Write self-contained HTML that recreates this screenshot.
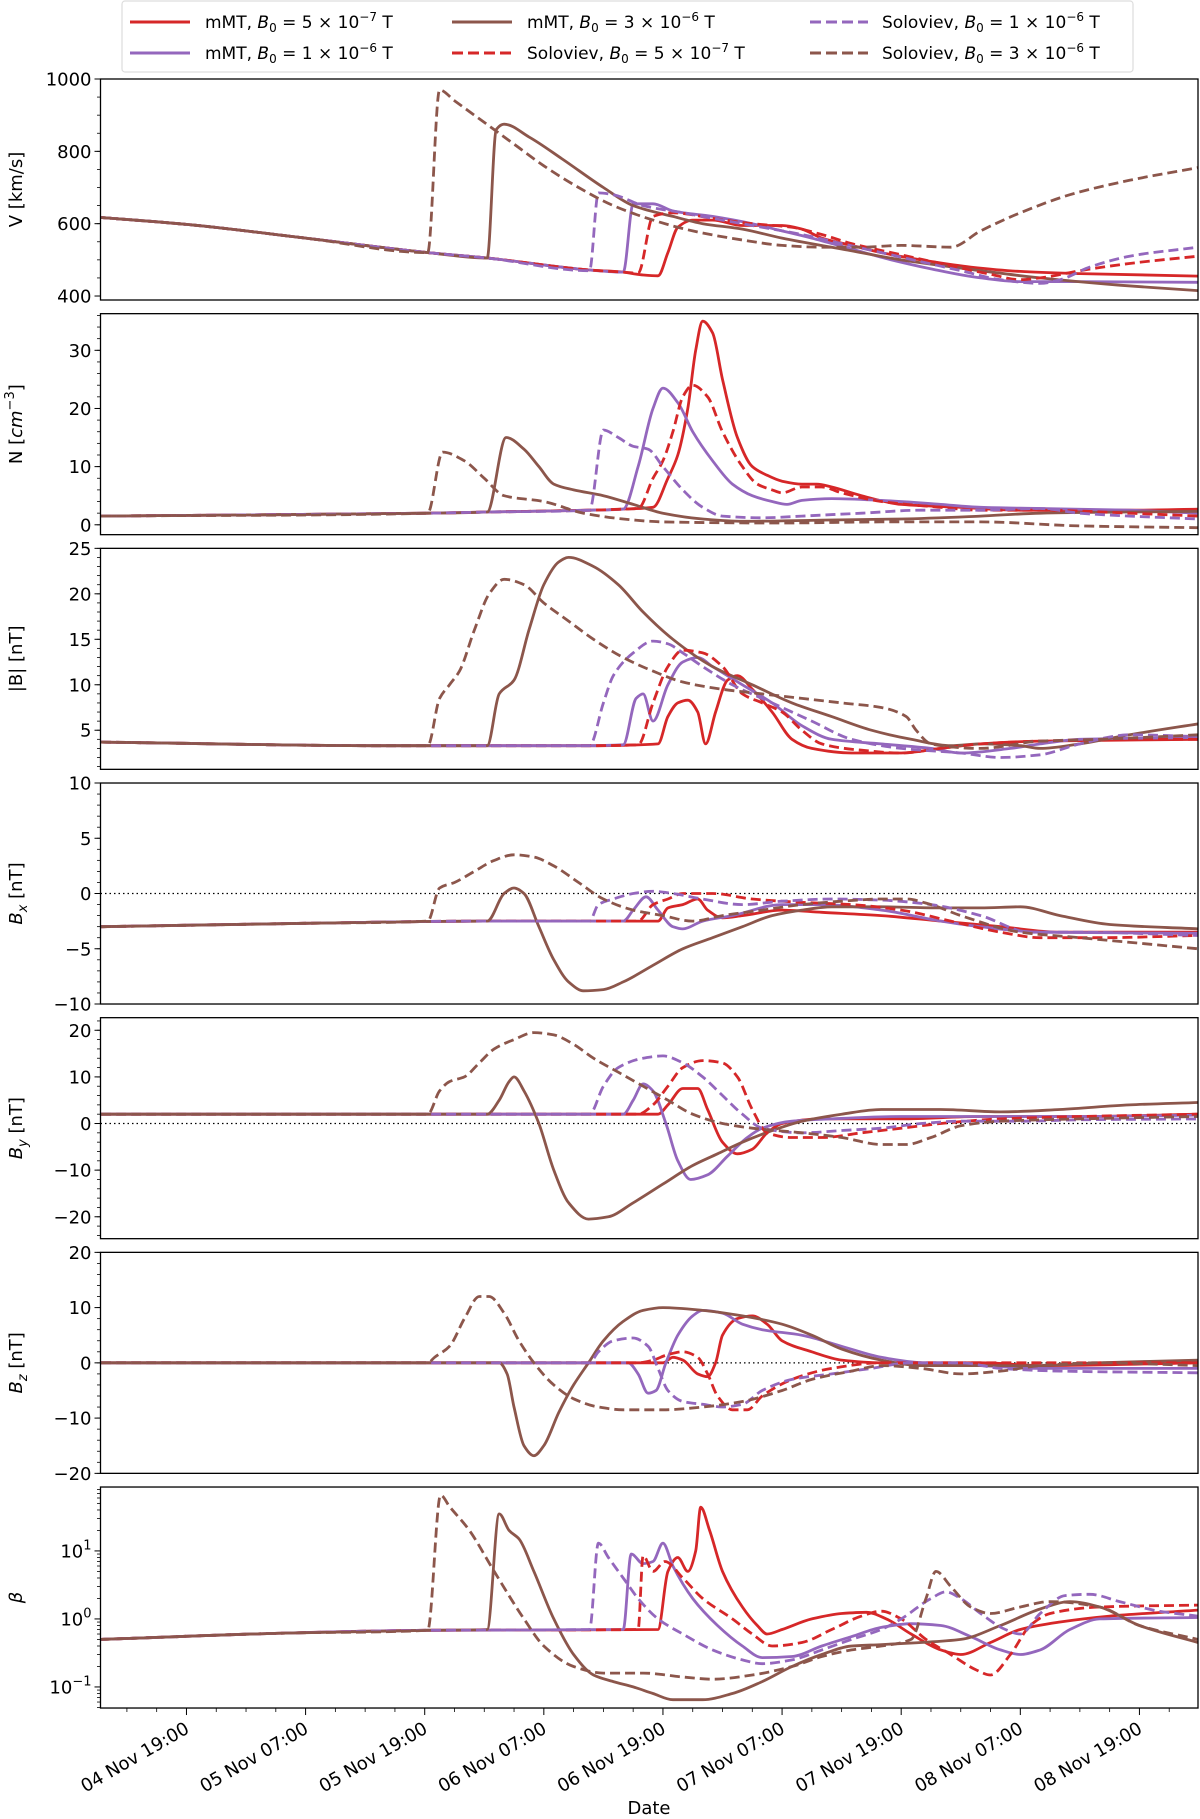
<!DOCTYPE html>
<html><head><meta charset="utf-8"><style>
body{margin:0;background:#fff;}
svg{display:block;font-family:"DejaVu Sans","Liberation Sans",sans-serif;}
</style></head><body>
<svg id="fig" width="1200" height="1819" viewBox="0 0 1200 1819" xmlns="http://www.w3.org/2000/svg">
<g id="legend">
<rect x="122" y="1" width="1011" height="71" fill="#fff" stroke="#ddd" stroke-width="1.2" rx="3"/>
<g><line x1="130" y1="22" x2="190" y2="22" stroke="#d62728" stroke-width="3"/><text x="205" y="28" font-size="17">mMT, <tspan font-style="italic">B</tspan><tspan font-size="12" dy="4">0</tspan><tspan dy="-4"> = 5 × 10</tspan><tspan font-size="12" dy="-7">−7</tspan><tspan dy="7"> T</tspan></text></g>
<g><line x1="130" y1="53" x2="190" y2="53" stroke="#9467bd" stroke-width="3"/><text x="205" y="59" font-size="17">mMT, <tspan font-style="italic">B</tspan><tspan font-size="12" dy="4">0</tspan><tspan dy="-4"> = 1 × 10</tspan><tspan font-size="12" dy="-7">−6</tspan><tspan dy="7"> T</tspan></text></g>
<g><line x1="452" y1="22" x2="512" y2="22" stroke="#8c564b" stroke-width="3"/><text x="527" y="28" font-size="17">mMT, <tspan font-style="italic">B</tspan><tspan font-size="12" dy="4">0</tspan><tspan dy="-4"> = 3 × 10</tspan><tspan font-size="12" dy="-7">−6</tspan><tspan dy="7"> T</tspan></text></g>
<g><line x1="452" y1="53" x2="512" y2="53" stroke="#d62728" stroke-width="3" stroke-dasharray="11,5"/><text x="527" y="59" font-size="17">Soloviev, <tspan font-style="italic">B</tspan><tspan font-size="12" dy="4">0</tspan><tspan dy="-4"> = 5 × 10</tspan><tspan font-size="12" dy="-7">−7</tspan><tspan dy="7"> T</tspan></text></g>
<g><line x1="810" y1="22" x2="868" y2="22" stroke="#9467bd" stroke-width="3" stroke-dasharray="11,5"/><text x="882" y="28" font-size="17">Soloviev, <tspan font-style="italic">B</tspan><tspan font-size="12" dy="4">0</tspan><tspan dy="-4"> = 1 × 10</tspan><tspan font-size="12" dy="-7">−6</tspan><tspan dy="7"> T</tspan></text></g>
<g><line x1="810" y1="53" x2="868" y2="53" stroke="#8c564b" stroke-width="3" stroke-dasharray="11,5"/><text x="882" y="59" font-size="17">Soloviev, <tspan font-style="italic">B</tspan><tspan font-size="12" dy="4">0</tspan><tspan dy="-4"> = 3 × 10</tspan><tspan font-size="12" dy="-7">−6</tspan><tspan dy="7"> T</tspan></text></g>
</g>
<text x="649" y="1814" font-size="18" text-anchor="middle">Date</text>
</svg>
<script>
// time in hours since 04 Nov 19:00
const xTickLabels = ["04 Nov 19:00","05 Nov 07:00","05 Nov 19:00","06 Nov 07:00","06 Nov 19:00","07 Nov 07:00","07 Nov 19:00","08 Nov 07:00","08 Nov 19:00"];
const xTickHours = [0,12,24,36,48,60,72,84,96];

const vBase = [[-8.6,617],[0,598],[12,560],[24.3,520],[30.3,505],[40.6,472],[44,466],[47.5,462]];
const vMR5 = [[46,458],[47.5,456],[48.5,520],[49.5,590],[51,610],[53,610],[56,595],[60,595],[62,585],[64,560],[67,540],[70,520],[74,500],[79,480],[84,468],[90,462],[101.9,455]];
const vMP1 = [[44,466],[45,655],[47,655],[49,635],[53,620],[57,600],[60,580],[63,560],[67,530],[71,500],[75,475],[80,450],[84,440],[90,440],[101.9,438]];
const vMB3 = [[30.3,505],[31.2,860],[32,875],[34.5,840],[37.8,780],[42,700],[45,650],[49,620],[52,600],[56,585],[60,560],[66,530],[72,500],[80,470],[86,450],[94,430],[101.9,415]];
const vSR5 = [[45.5,463],[47,620],[49,630],[53,615],[57,600],[61,590],[64,570],[67,545],[71,520],[76,490],[81,460],[84,445],[86,450],[90,470],[95,490],[101.9,510]];
const vSP1 = [[40.6,470],[41.5,685],[43,680],[46,650],[50,630],[54,610],[58,590],[62,570],[66,545],[70,520],[74,495],[78,470],[82,445],[86,435],[88,445],[91,480],[95,510],[101.9,535]];
const vSB3 = [[24.3,520],[25.5,970],[27,940],[30,880],[33,820],[36,760],[39.5,700],[43,650],[47,610],[51,580],[56,555],[60,540],[64,535],[68,535],[72,540],[77,535],[80,580],[84,630],[89,680],[95,720],[101.9,755]];

const nBase = [[-8.6,1.5],[24.3,2.0],[30.3,2.2],[40.6,2.5],[44,2.7],[47,3]];
const nMR5 = [[47,3],[48.5,8],[49.5,12],[50.5,20],[51.3,30],[52,35],[53,33],[54,25],[55.5,15],[57,10],[58.5,8.5],[60,7.5],[62,7],[63.5,7],[65,6.5],[68,5],[72,3.5],[78,3],[84,2.5],[90,2.5],[95,2.5],[101.9,2.7]];
const nMP1 = [[44,2.7],[45.5,10],[47,20],[48,23.5],[49.5,21],[51,16],[53,11],[55,7],[57,5],[59,4],[60.5,3.5],[62,4.2],[65,4.5],[70,4.2],[76,3.5],[80,3],[86,2.8],[95,2.5],[101.9,2.0]];
const nMB3 = [[30.3,2.2],[32.2,15],[34,13],[35.5,10],[37,7],[39,6],[42,5],[45,3.5],[48,2],[52,1.0],[56,0.6],[64,0.8],[72,1],[80,1.5],[86,2.0],[95,2.2],[101.9,2.3]];
const nSR5 = [[45.5,2.8],[47,8],[48,11],[49,16],[50,22],[51,24],[52.5,22],[54,16],[56,10],[57.5,7],[59,6],[60,5.5],[62,6.5],[64,6.5],[66,5.5],[70,4],[76,3],[80,2.5],[86,2.5],[95,2.0],[101.9,1.5]];
const nSP1 = [[40.6,2.5],[42,16.3],[43.5,15],[45,13.5],[46.5,13],[48,10],[50,6],[52,3],[54,1.5],[58,1.2],[62,1.5],[68,2.0],[74,2.5],[80,2.5],[86,2.8],[90,2],[95,1.5],[101.9,1.0]];
const nSB3 = [[24.3,2.0],[25.8,12.5],[28,11],[30,8],[32,5],[36,4],[40,2],[44,1],[48,0.5],[60,0.3],[70,0.5],[80,0.5],[90,-0.2],[101.9,-0.5]];

const bBase = [[-8.6,3.7],[20,3.3],[40,3.3],[47.5,3.5]];
const bMR5 = [[47.5,3.5],[48.5,6.5],[49.5,8],[50.5,8.3],[51.5,7],[52.3,3.5],[53.3,7],[54.5,10.5],[55.5,11],[57,9.5],[59,7],[61,4],[63,3],[67,2.5],[72,2.5],[76,3],[80,3.5],[86,3.8],[101.9,4]];
const bMP1 = [[44,3.4],[45.3,8.5],[46,9],[47,6],[48.5,10],[50,12.5],[51.5,13],[53,12],[56,10],[59,8],[62,5.5],[65,4],[70,3.5],[75,3],[78,2.5],[83,3],[86,3.5],[90,4],[101.9,4.2]];
const bMB3 = [[30.3,3.3],[31.5,9],[33,10.5],[34.5,16],[36,21],[37.5,23.5],[38.5,24],[41,23],[43.5,21],[46,18],[49,15],[53,12],[57,10],[61,8],[65,6.5],[69,5],[73,4],[77,3.3],[80,3.5],[84,3.3],[86,3.0],[90,3.5],[95,4.5],[101.9,5.7]];
const bSR5 = [[45.5,3.4],[47,8],[48.5,12],[50,13.8],[52,13.5],[54,12],[56,9],[58,8],[60,7],[62,5],[64,3.5],[68,2.8],[72,2.5],[76,3],[80,3.5],[86,3.8],[95,4],[101.9,4.0]];
const bSP1 = [[40.6,3.3],[42,8],[43,11],[45,13.5],[47,14.8],[48.5,14.5],[50,13.5],[52,12],[55,10],[59,8],[63,6],[67,4],[72,3],[78,2.5],[82,2.0],[86,2.3],[90,3.5],[95,4.5],[101.9,4.3]];
const bSB3 = [[24.3,3.3],[25.5,8.5],[26.5,10],[27.5,11.5],[29,16],[30.5,20],[32,21.6],[34,21],[36,19],[38.5,17],[41,15],[44,13],[47,11.5],[50,10.3],[54,9.5],[58,9],[62,8.5],[66,8],[70,7.5],[72.5,6.5],[73.5,5],[75,3.5],[80,3],[86,3.8],[92,4.0],[101.9,4.5]];

const bxBase = [[-8.6,-3],[12,-2.7],[30,-2.5],[47.5,-2.5]];
const bxMR5 = [[47.5,-2.5],[48.5,-1.3],[50,-1],[51.5,-0.5],[52.5,-1.5],[54,-2.2],[56,-2],[60,-1.5],[64,-1.7],[70,-2],[76,-2.5],[82,-3],[88,-3.5],[101.9,-3.5]];
const bxMP1 = [[44,-2.5],[45,-1.5],[46.3,-0.3],[47.5,-1.5],[49,-3],[50,-3.2],[52,-2.5],[55,-2],[60,-1],[64,-1],[70,-1.5],[76,-2.5],[80,-3],[86,-3.5],[101.9,-3.6]];
const bxMB3 = [[30.3,-2.5],[32,0],[33,0.5],[34,0],[35.5,-3],[37,-6],[38.5,-8],[40,-8.8],[42,-8.7],[44,-8],[47,-6.5],[50,-5],[53,-4],[56,-3],[59,-2],[62,-1.5],[65,-1.2],[70,-1.2],[76,-1.3],[80,-1.3],[84,-1.2],[88,-2],[93,-2.8],[101.9,-3.2]];
const bxSR5 = [[45.5,-2.5],[47,-1],[48.5,-0.5],[50,0],[53,0],[57,-0.5],[62,-0.8],[67,-1],[72,-1.5],[77,-2.5],[82,-3.5],[86,-4],[92,-4],[101.9,-3.8]];
const bxSP1 = [[40.6,-2.5],[41.5,-1],[43,-0.5],[45,0],[47,0.2],[49,0],[52,-0.5],[56,-1],[60,-0.7],[65,-0.5],[70,-0.6],[75,-1],[80,-2],[85,-3.5],[90,-3.5],[101.9,-3.8]];
const bxSB3 = [[24.3,-2.5],[25.5,0.5],[27,1],[29,2],[31,3],[33,3.5],[35,3.3],[37,2.5],[39.5,1],[42,-0.5],[45,-1.5],[48,-2],[51,-2.5],[54,-2],[58,-1.5],[62,-1],[66,-0.7],[70,-0.5],[72.5,-0.5],[75,-1],[78,-2],[84,-3.5],[90,-4],[96,-4.5],[101.9,-5]];

const byBase = [[-8.6,2],[47.5,2]];
const byMR5 = [[47.5,2],[48.5,4],[50,7.5],[51.5,7.5],[52.5,3],[54,-4],[55.5,-6.5],[57,-5.5],[58.5,-2],[60,0],[64,1],[72,1],[80,1.5],[90,1.5],[101.9,2]];
const byMP1 = [[44,2],[45,5],[46,8.5],[47,7],[48.3,0],[49.5,-8],[50.8,-12],[52.5,-11],[54.5,-7],[56.5,-3],[58,-1],[61,0.5],[65,1],[72,1.5],[80,1.5],[90,1.5],[101.9,1.8]];
const byMB3 = [[30.3,2],[31.5,5],[32.5,9],[33,10],[34,7],[35.5,0],[37,-10],[38.5,-17],[40.5,-20.5],[42.5,-20],[45,-17],[48,-13],[51,-9],[53.5,-6.5],[56,-4],[59,-1.5],[62,0.5],[66,2],[70,3],[76,3],[82,2.5],[88,3],[95,4],[101.9,4.5]];
const bySR5 = [[45.5,2],[47,4],[48.5,8],[50,12],[52,13.5],[54,13],[55.5,10],[57,3],[58.5,-2],[61,-3],[64,-3],[68,-2],[72,-1],[76,0],[82,1],[90,1.5],[101.9,2]];
const bySP1 = [[40.6,2],[42,8],[43.5,12],[46,14],[48,14.5],[50,13],[52,10],[54,6],[56,2],[58,-1],[62,-2],[66,-1.5],[70,-1],[74,0],[78,0.5],[84,0.5],[90,0.8],[101.9,1]];
const bySB3 = [[24.3,2],[25.5,7],[26.5,9],[28,10],[29.5,13],[31,16],[33,18],[35,19.5],[37,19],[39,17],[41,14],[43.5,11],[46,8],[48.5,5],[51,2],[54,0],[57,-1],[62,-2],[66,-3],[70,-4.5],[72.5,-4.5],[75,-3],[78,-0.5],[82,0.5],[90,1],[101.9,1.5]];

const bzBase = [[-8.6,0],[48,0]];
const bzMR5 = [[48,0],[49,1],[50,0.5],[51.5,-2],[52.5,-2.5],[53.3,0],[54,5],[55.5,8],[57,8.5],[58.5,7],[60,4],[63,2],[66,0.5],[70,0],[80,0],[86,-0.5],[101.9,0]];
const bzMP1 = [[44.5,0],[45.5,-2],[46.5,-5.5],[47.3,-5],[48.3,0],[49.5,5],[51,8.5],[52,9.5],[54,9],[56,7],[58,6],[62,5],[66,3],[70,1],[74,0],[80,-0.5],[86,-1],[101.9,-1]];
const bzMB3 = [[31.5,0],[32.3,-2],[33,-8],[34,-15],[35,-16.8],[36,-15],[37.5,-9],[39,-4],[40.5,0],[42,4],[44,7.5],[46,9.5],[48,10],[52,9.5],[56,8.5],[60,7],[63,5],[66,2.5],[70,0.5],[74,-0.5],[80,-0.5],[86,-0.5],[92,0],[101.9,0.5]];
const bzSR5 = [[45.5,0],[47,0.5],[48.5,1.5],[50,2],[51.5,1],[52.5,-2],[53.5,-6],[55,-8.5],[56.5,-8.5],[58,-6],[61,-3],[65,-1],[70,0],[76,0],[86,0],[101.9,0]];
const bzSP1 = [[40.6,0],[41.5,2],[43,4],[45,4.5],[46.5,3],[47.5,-1],[48.5,-5],[50,-7],[52,-7.5],[54,-8],[56,-7.5],[58,-5],[61,-3],[65,-2],[69,-1],[73,0],[78,0],[82,-1],[88,-1.5],[101.9,-1.8]];
const bzSB3 = [[24.3,0],[25,1],[26.5,3],[28,8],[29.5,12],[30.5,12],[32,9],[33.5,4],[35,0],[37,-4],[39,-6.5],[41.5,-8],[44,-8.5],[48,-8.5],[52,-8],[56,-7],[60,-5],[63,-3],[67,-1.5],[70,-0.5],[74,-1],[78,-2],[82,-1.5],[86,-0.5],[92,0],[101.9,-0.5]];

const betaBase = [[-8.6,0.5],[10,0.62],[24.3,0.68],[47.5,0.7]];
const betaMR5 = [[47.5,0.7],[48.5,5],[49.5,8],[50.5,5],[51.3,10],[51.8,44],[52.7,20],[54,5],[56,1.5],[57.5,0.8],[58.5,0.6],[60,0.7],[63,1],[66,1.2],[68.5,1.25],[70.5,1],[73,0.6],[76,0.35],[78,0.3],[81,0.45],[84,0.7],[88,0.9],[93,1.1],[101.9,1.35]];
const betaMP1 = [[44,0.7],[44.8,9],[46,6.5],[47,7],[48,13],[49,6],[51,2],[53.5,0.8],[56,0.4],[58,0.27],[61,0.28],[64,0.4],[67,0.55],[70,0.75],[73,0.85],[76,0.8],[79,0.55],[82,0.35],[84,0.3],[86,0.35],[89,0.7],[92,1],[101.9,1.05]];
const betaMB3 = [[30.3,0.7],[31.5,35],[32.5,20],[33.5,15],[35,5],[37,1],[39,0.3],[41,0.15],[43,0.12],[45,0.1],[47,0.08],[49,0.065],[52,0.065],[55,0.08],[58,0.12],[61,0.2],[64,0.3],[67,0.4],[70,0.42],[74,0.45],[78,0.5],[82,0.8],[86,1.4],[89,1.8],[92,1.5],[96,0.8],[101.9,0.45]];
const betaSR5 = [[45.5,0.7],[46,8.5],[47,5],[48.2,7],[50,4],[52,2],[55,1],[57,0.6],[59,0.4],[62,0.45],[65,0.7],[68,1.1],[70,1.3],[72,1],[74.5,0.5],[77,0.3],[79.5,0.18],[81,0.15],[83,0.3],[85,0.8],[87,1.2],[92,1.5],[101.9,1.6]];
const betaSP1 = [[40.6,0.7],[41.5,13],[42.5,8],[44,4],[45.5,2],[47.5,1],[50,0.6],[53,0.35],[56,0.25],[58,0.22],[61,0.25],[64,0.35],[67,0.5],[70,0.7],[72,1],[75,2],[76.5,2.5],[78,2],[80,1.2],[82.5,0.7],[84,0.6],[86,1.2],[88.5,2.2],[91,2.3],[94,1.8],[98,1.3],[101.9,1.1]];
const betaSB3 = [[24.3,0.68],[25.6,66],[26.5,45],[28.5,20],[31,5],[34,1],[36,0.4],[39,0.2],[42,0.16],[46,0.16],[50,0.14],[53,0.13],[57,0.15],[61,0.2],[64,0.28],[67,0.35],[70,0.4],[73,0.5],[74.5,2],[75.5,5],[77,3],[79,1.5],[81,1.2],[84,1.5],[87,1.8],[92,1.5],[96,0.8],[101.9,0.5]];

const NS="http://www.w3.org/2000/svg";
const svg=document.getElementById('fig');
const X0=100.5, X1=1198, T0=-8.66, T1=101.9;
function xs(t){return X0+(t-T0)/(T1-T0)*(X1-X0);}
const RED="#d62728", PUR="#9467bd", BRN="#8c564b";
function mk(tag,attrs,parent){const e=document.createElementNS(NS,tag);for(const k in attrs)e.setAttribute(k,attrs[k]);(parent||svg).appendChild(e);return e;}

// monotone cubic path through screen points
function smoothPath(P){
  const n=P.length; if(n<2) return '';
  const dx=[],m=[],s=[];
  for(let i=0;i<n-1;i++){dx[i]=P[i+1][0]-P[i][0]; s[i]=dx[i]>0?(P[i+1][1]-P[i][1])/dx[i]:0;}
  m[0]=s[0]; m[n-1]=s[n-2];
  for(let i=1;i<n-1;i++){ if(s[i-1]*s[i]<=0) m[i]=0; else { const w1=2*dx[i]+dx[i-1], w2=dx[i]+2*dx[i-1]; m[i]=(w1+w2)/(w1/s[i-1]+w2/s[i]); } }
  let d='M'+P[0][0].toFixed(1)+','+P[0][1].toFixed(1);
  for(let i=0;i<n-1;i++){const h=dx[i]/3;
    d+='C'+(P[i][0]+h).toFixed(1)+','+(P[i][1]+m[i]*h).toFixed(1)+' '+(P[i+1][0]-h).toFixed(1)+','+(P[i+1][1]-m[i+1]*h).toFixed(1)+' '+P[i+1][0].toFixed(1)+','+P[i+1][1].toFixed(1);}
  return d;
}

const panels=[
 {name:'velocity',label:'V [km/s]',min:389,max:1000,ticks:[400,600,800,1000],minor:50,log:false,base:vBase,s:[vMR5,vMP1,vMB3,vSR5,vSP1,vSB3]},
 {name:'density',label:'N',min:-1.7,max:36.3,ticks:[0,10,20,30],minor:2,log:false,base:nBase,s:[nMR5,nMP1,nMB3,nSR5,nSP1,nSB3]},
 {name:'b-magnitude',label:'|B| [nT]',min:0.7,max:25,ticks:[5,10,15,20,25],minor:1,log:false,base:bBase,s:[bMR5,bMP1,bMB3,bSR5,bSP1,bSB3]},
 {name:'bx',label:'Bx',min:-10,max:10,ticks:[-10,-5,0,5,10],minor:1,log:false,zero:true,base:bxBase,s:[bxMR5,bxMP1,bxMB3,bxSR5,bxSP1,bxSB3]},
 {name:'by',label:'By',min:-24.7,max:22.7,ticks:[-20,-10,0,10,20],minor:2,log:false,zero:true,base:byBase,s:[byMR5,byMP1,byMB3,bySR5,bySP1,bySB3]},
 {name:'bz',label:'Bz',min:-20,max:20,ticks:[-20,-10,0,10,20],minor:2,log:false,zero:true,base:bzBase,s:[bzMR5,bzMP1,bzMB3,bzSR5,bzSP1,bzSB3]},
 {name:'beta',label:'β',min:0.049,max:87,ticks:[0.1,1,10],log:true,base:betaBase,s:[betaMR5,betaMP1,betaMB3,betaSR5,betaSP1,betaSB3]}
];
const styles=[{c:RED,d:null,n:'mmt-5e-7'},{c:PUR,d:null,n:'mmt-1e-6'},{c:BRN,d:null,n:'mmt-3e-6'},{c:RED,d:'10,5',n:'soloviev-5e-7'},{c:PUR,d:'10,5',n:'soloviev-1e-6'},{c:BRN,d:'10,5',n:'soloviev-3e-6'}];
const order=[0,1,2,3,4,5];

panels.forEach((p,i)=>{
  const top=79+i*234.67, bot=top+221;
  const ys=v=>{ if(p.log){const a=Math.log10(p.min),b=Math.log10(p.max);return bot-(Math.log10(v)-a)/(b-a)*(bot-top);} return bot-(v-p.min)/(p.max-p.min)*(bot-top);};
  const g=mk('g',{});
  
  
  const cid='clip'+i;
  const cp=mk('clipPath',{id:cid},g); mk('rect',{x:X0,y:top,width:X1-X0,height:bot-top},cp);
  if(p.log){
    for(let e=-2;e<=1;e++)for(let m=2;m<=9;m++){const v=m*Math.pow(10,e);if(v>p.min&&v<p.max){const y=ys(v);mk('line',{x1:X0-3.5,x2:X0,y1:y,y2:y,stroke:'#000','stroke-width':0.8},g);}}
  } else {
    for(let v=Math.ceil(p.min/p.minor)*p.minor;v<=p.max+1e-9;v+=p.minor){const y=ys(v);mk('line',{x1:X0-3.5,x2:X0,y1:y,y2:y,stroke:'#000','stroke-width':0.8},g);}
  }
  p.ticks.forEach(v=>{const y=ys(v);mk('line',{x1:X0-6,x2:X0,y1:y,y2:y,stroke:'#000','stroke-width':1},g);
    const tx=mk('text',{x:X0-9,y:y+6.5,'font-size':18,'text-anchor':'end'},g);
    
    
    if(p.log){const e=Math.round(Math.log10(v));tx.textContent='10';const sp=mk('tspan',{'font-size':13,dy:-8},tx);sp.textContent=(e<0?'−':'')+Math.abs(e);}
    else tx.textContent=(v<0?'−':'')+Math.abs(v);
  });
  if(p.zero){const z=mk('line',{x1:X0,x2:X1,y1:ys(0),y2:ys(0),stroke:'#000','stroke-width':1.2,'stroke-dasharray':'1.5,3'},g);
    
    }
  order.forEach(k=>{
    const arr=p.s[k]; const t0=arr[0][0];
    const pts=p.base.filter(q=>q[0]<t0).concat(arr);
    const P=pts.map(q=>[xs(q[0]),ys(q[1])]);
    const a={d:smoothPath(P),fill:'none',stroke:styles[k].c,'stroke-width':2.8,'stroke-linejoin':'round','clip-path':'url(#'+cid+')'};
    if(styles[k].d)a['stroke-dasharray']=styles[k].d;
    const path=mk('path',a,g);
    
    
  });
  mk('rect',{x:X0,y:top,width:X1-X0,height:bot-top,fill:'none',stroke:'#000','stroke-width':1.3},g);
  const lx=22, ly=(top+bot)/2;
  const lab=mk('text',{x:lx,y:ly,'font-size':18,'text-anchor':'middle',transform:'rotate(-90 '+lx+' '+ly+')'},g);
  
  
  if(p.label==='N'){lab.textContent='N [';const s1=mk('tspan',{'font-style':'italic'},lab);s1.textContent='cm';const s2=mk('tspan',{'font-size':13,dy:-8},lab);s2.textContent='−3';const s3=mk('tspan',{dy:8},lab);s3.textContent=']';}
  else if(p.label.length===2&&p.label[0]==='B'){const s1=mk('tspan',{'font-style':'italic'},lab);s1.textContent='B';const s2=mk('tspan',{'font-size':13,dy:5,'font-style':'italic'},lab);s2.textContent=p.label[1];const s3=mk('tspan',{dy:-5},lab);s3.textContent=' [nT]';}
  else if(p.label==='β'){lab.setAttribute('font-style','italic');lab.textContent='β';}
  else lab.textContent=p.label;
  if(i===panels.length-1){
    for(let t=-6;t<=T1;t+=3){const x=xs(t);const major=(t%12===0);mk('line',{x1:x,x2:x,y1:bot,y2:bot+(major?7:4),stroke:'#000','stroke-width':major?1:0.8},g);}
    xTickHours.forEach((h,j)=>{const x=xs(h);const ty=bot+14;
      const tx=mk('text',{x:x+4,y:ty+10,'font-size':18,'text-anchor':'end',transform:'rotate(-30 '+(x+4)+' '+(ty+10)+')'},g);
      
      
      tx.textContent=xTickLabels[j];});
  }
});
</script>
</body></html>
